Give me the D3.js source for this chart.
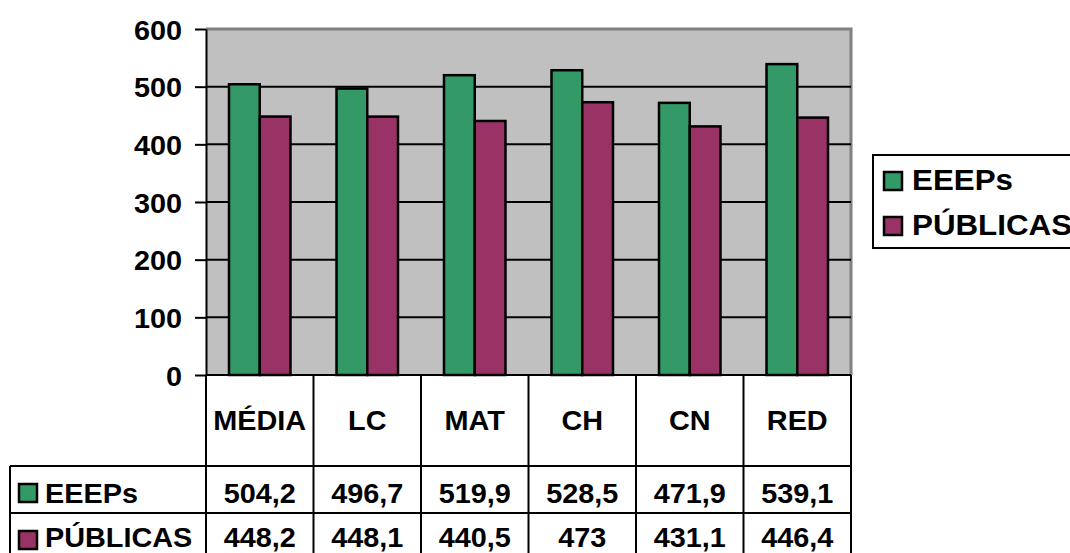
<!DOCTYPE html>
<html>
<head>
<meta charset="utf-8">
<script src="https://cdn.jsdelivr.net/npm/d3@7"></script>
<style>
  body { margin: 0; background: #fff; overflow: hidden; }
  text { font-family: "Liberation Sans", Arial, sans-serif; font-weight: bold; fill: #000; }
</style>
</head>
<body>
<div id="chartDiv"></div>
<script>
// chart data
var categories = ["MÉDIA", "LC", "MAT", "CH", "CN", "RED"];
var seriesNames = ["EEEPs", "PÚBLICAS"];
var eeeps = [504.2, 496.7, 519.9, 528.5, 471.9, 539.1];
var publicas = [448.2, 448.1, 440.5, 473, 431.1, 446.4];
var eeepsLabels = ["504,2", "496,7", "519,9", "528,5", "471,9", "539,1"];
var publicasLabels = ["448,2", "448,1", "440,5", "473", "431,1", "446,4"];
var yTicks = [0, 100, 200, 300, 400, 500, 600];

var colors = {"EEEPs": "#339966", "PÚBLICAS": "#993366"};
var fontSize = 28, stretch = 1.03;

var svg = d3.select("#chartDiv").append("svg")
    .attr("width", 1070)
    .attr("height", 553);

var plot = {left: 206, right: 851, top: 29, bottom: 375};
var headerH = 91, rowH = 47, tableLeft = 10;

var x_scale = d3.scaleBand()
    .domain(categories)
    .range([plot.left, plot.right]);
var bw = x_scale.bandwidth();
var x_sub = d3.scaleBand()
    .domain(seriesNames)
    .range([bw * 0.214, bw * 0.786]);
var y_scale = d3.scaleLinear()
    .domain([0, 600])
    .range([plot.bottom, plot.top]);

// stretched bold text helper
function label(g, str, x, y, anchor, size, sx) {
  return g.append("text")
    .text(str)
    .attr("text-anchor", anchor || "middle")
    .style("font-size", (size || fontSize) + "px")
    .attr("transform", "translate(" + x + "," + y + ") scale(" + (sx || stretch) + ",1)");
}

// plot background
svg.append("rect")
    .attr("x", plot.left).attr("y", plot.top)
    .attr("width", plot.right - plot.left)
    .attr("height", plot.bottom - plot.top)
    .attr("fill", "#c0c0c0");
svg.append("path")
    .attr("d", "M" + plot.left + "," + plot.top + "H" + plot.right + "V" + plot.bottom)
    .attr("fill", "none").attr("stroke", "#808080").attr("stroke-width", 3);

// gridlines
svg.append("g").selectAll("line").data(yTicks.filter(function(d){ return d > 0 && d < 600; }))
  .enter().append("line")
    .attr("x1", plot.left).attr("x2", plot.right)
    .attr("y1", function(d){ return y_scale(d); })
    .attr("y2", function(d){ return y_scale(d); })
    .attr("stroke", "#000").attr("stroke-width", 2);

// bars
var rows = categories.map(function(c, i){
  return {cat: c, vals: [{s: "EEEPs", v: eeeps[i]}, {s: "PÚBLICAS", v: publicas[i]}]};
});
var groups = svg.append("g").selectAll("g").data(rows).enter().append("g")
    .attr("transform", function(d){ return "translate(" + x_scale(d.cat) + ",0)"; });
groups.selectAll("rect").data(function(d){ return d.vals; }).enter().append("rect")
    .attr("x", function(d){ return x_sub(d.s); })
    .attr("width", x_sub.bandwidth())
    .attr("y", function(d){ return y_scale(d.v); })
    .attr("height", function(d){ return plot.bottom - y_scale(d.v); })
    .attr("fill", function(d){ return colors[d.s]; })
    .attr("stroke", "#000").attr("stroke-width", 2.5);

// y axis
var yAxis = svg.append("g")
    .attr("transform", "translate(" + plot.left + ",0)")
    .call(d3.axisLeft(y_scale).tickValues(yTicks).tickSize(11).tickSizeOuter(0).tickPadding(13));
yAxis.select(".domain").attr("stroke", "#000").attr("stroke-width", 2);
yAxis.selectAll(".tick line").attr("stroke", "#000").attr("stroke-width", 2);
yAxis.selectAll(".tick text")
    .style("font-size", fontSize + "px")
    .style("font-family", "'Liberation Sans', Arial, sans-serif")
    .style("font-weight", "bold")
    .attr("dy", "0.36em")
    .attr("transform", "scale(" + stretch + ",1)")
    .attr("x", -24 / stretch);

// data table
var table = svg.append("g");
var tableBottom = plot.bottom + headerH + rowH * 2;
var lineStyle = function(sel){ return sel.attr("stroke", "#000").attr("stroke-width", 2); };
// horizontal lines
[plot.bottom, plot.bottom + headerH, plot.bottom + headerH + rowH].forEach(function(yy, i){
  lineStyle(table.append("line")
    .attr("x1", i === 0 ? plot.left : tableLeft).attr("x2", plot.right)
    .attr("y1", yy).attr("y2", yy));
});
// vertical lines
categories.concat(["end"]).forEach(function(c, i){
  var xx = plot.left + i * bw;
  lineStyle(table.append("line")
    .attr("x1", xx).attr("x2", xx)
    .attr("y1", plot.bottom).attr("y2", tableBottom));
});
lineStyle(table.append("line")
  .attr("x1", tableLeft).attr("x2", tableLeft)
  .attr("y1", plot.bottom + headerH).attr("y2", tableBottom));

// header labels
categories.forEach(function(c){
  label(table, c, x_scale(c) + bw / 2, plot.bottom + 55);
});
// value rows
var tableVals = [eeepsLabels, publicasLabels];
var baseOff = [36.5, 34];
seriesNames.forEach(function(s, r){
  var top = plot.bottom + headerH + rowH * r;
  table.append("rect")
    .attr("x", 19).attr("y", top + 18).attr("width", 18).attr("height", 18)
    .attr("fill", colors[s]).attr("stroke", "#000").attr("stroke-width", 2.5);
  label(table, s, 45, top + baseOff[r], "start");
  categories.forEach(function(c, i){
    label(table, tableVals[r][i], x_scale(c) + bw / 2, top + baseOff[r]);
  });
});

// legend
var legend = svg.append("g");
legend.append("rect")
    .attr("x", 873).attr("y", 155).attr("width", 300).attr("height", 93)
    .attr("fill", "#fff").attr("stroke", "#000").attr("stroke-width", 2);
seriesNames.forEach(function(s, i){
  var top = 172 + i * 45;
  legend.append("rect")
    .attr("x", 884).attr("y", top).attr("width", 18).attr("height", 18)
    .attr("fill", colors[s]).attr("stroke", "#000").attr("stroke-width", 2.5);
  label(legend, s, 912, top + 18, "start", 29, 1.08);
});
</script>
</body>
</html>
